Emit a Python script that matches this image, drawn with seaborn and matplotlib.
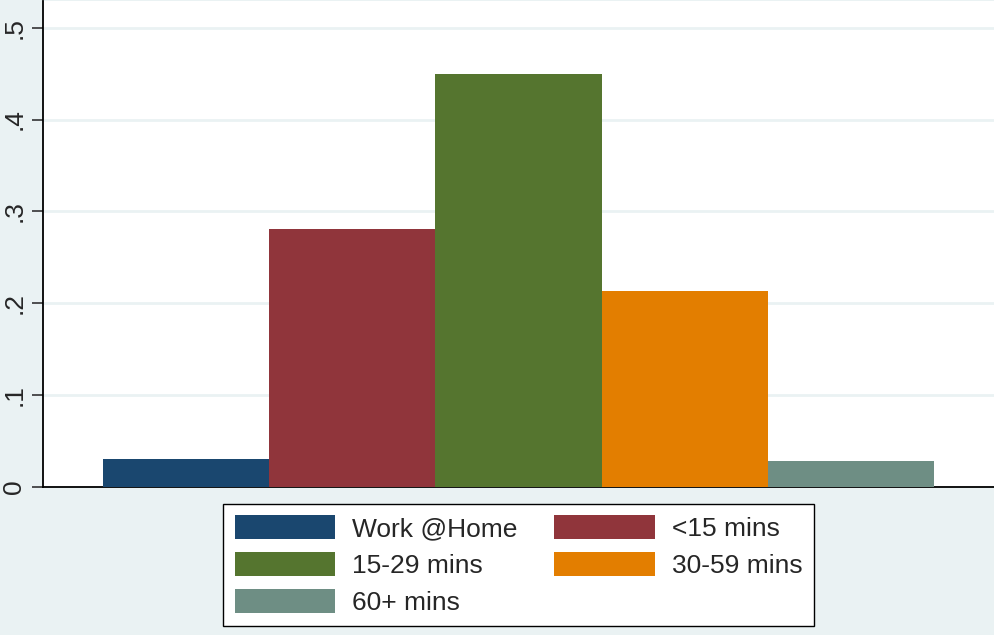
import numpy as np
import pandas as pd
import matplotlib
matplotlib.use("Agg")
import matplotlib.pyplot as plt
import seaborn as sns
from matplotlib.patches import Patch

# 通勤时间分组及比例
categories = ["Work @Home", "<15 mins", "15-29 mins", "30-59 mins", "60+ mins"]
shares = [0.0305, 0.281, 0.450, 0.2135, 0.0283]
colors = ["#1a476f", "#90353b", "#55752f", "#e37e00", "#6e8e84"]
yticks = [0, 0.1, 0.2, 0.3, 0.4, 0.5]
ytick_labels = ["0", ".1", ".2", ".3", ".4", ".5"]

bg = "#eaf2f3"

sns.set_style("white")
plt.rcParams["font.family"] = ["Liberation Sans", "DejaVu Sans"]

df = pd.DataFrame({"group": categories, "share": shares})

fig = plt.figure(figsize=(9.94, 6.35), dpi=100, facecolor=bg)
ax = fig.add_axes([43 / 994, 1 - 487 / 635, 1 - 43 / 994, 486 / 635])
ax.set_facecolor("white")

sns.barplot(data=df, x="group", y="share", hue="group", palette=colors,
            width=1, dodge=False, legend=False, saturation=1, ax=ax, zorder=3,
            edgecolor="none", linewidth=0)

ax.set_xlim(-0.861, 4.861)
ax.set_ylim(0, 0.529)
ax.set_yticks(yticks)
ax.set_yticklabels(ytick_labels, rotation=90, va="center", fontsize=19)
ax.set_xticks([])
ax.set_xlabel("")
ax.set_ylabel("")
ax.grid(axis="y", color=bg, linewidth=2, zorder=0)
ax.tick_params(axis="y", left=True, length=8, width=1.2, color="#333333", pad=4)

for s in ["top", "right"]:
    ax.spines[s].set_visible(False)
for s in ["left", "bottom"]:
    ax.spines[s].set_color("black")
    ax.spines[s].set_linewidth(1.3)

# 图例按行排列：先重排顺序以适配matplotlib的按列填充
handles = [Patch(facecolor=c, edgecolor="none") for c in colors]
order = [0, 2, 4, 1, 3]
leg = fig.legend([handles[i] for i in order], [categories[i] for i in order],
                 ncol=2, loc="center", bbox_to_anchor=(518.5 / 994, 1 - 565 / 635),
                 fontsize=19, frameon=True, fancybox=False, framealpha=1,
                 edgecolor="black", handlelength=3.8, handleheight=1.02,
                 labelspacing=0.4, columnspacing=1.4, handletextpad=0.64,
                 borderpad=0.45)
leg.get_frame().set_linewidth(1.0)

fig.savefig("out.png", dpi=100, facecolor=bg)
